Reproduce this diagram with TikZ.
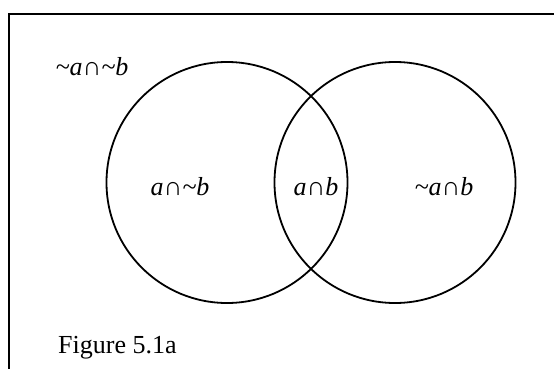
\documentclass[tikz,border=0pt]{standalone}
\usepackage{fontspec}
\setmainfont{Liberation Serif}
\usepackage{tikz}

\begin{document}
\begin{tikzpicture}[
  x=1pt, y=-1pt,
  frm/.style    = {line width=2pt, black},
  setline/.style = {line width=1.8pt, black},
  lbl/.style    = {anchor=base, inner sep=0pt, font=\fontsize{26}{30}\selectfont\itshape},
  figcap/.style = {anchor=base west, inner sep=0pt, font=\fontsize{26}{30}\selectfont}
]
\useasboundingbox (0,0) rectangle (554,369);

% Rahmen: nur oben und links
\coordinate (tl) at (9,14);
\coordinate (tr) at (560,14);
\coordinate (bl) at (9,375);
\draw[frm] (tr) -- (tl) -- (bl);

% Mengen a und b
\draw[setline] (227,182.5) circle[radius=120.5];
\draw[setline] (395,182.5) circle[radius=120.5];

% Beschriftungen
\node[lbl] (nanb) at (92,75)   {\char"007Ea∩\char"007Eb};
\node[lbl] (anb)  at (180,195) {a∩\char"007Eb};
\node[lbl] (ab)   at (316,195) {a∩b};
\node[lbl] (nab)  at (444,195) {\char"007Ea∩b};

\node[figcap] (fig) at (58,353) {Figure 5.1a};
\end{tikzpicture}
\end{document}
